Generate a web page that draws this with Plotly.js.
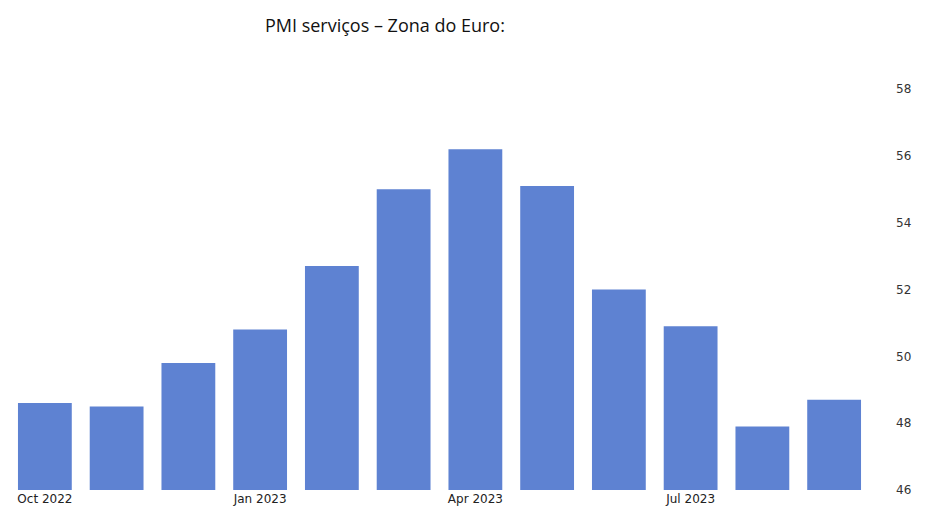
<!DOCTYPE html>
<html>
<head>
<meta charset="utf-8">
<script src="https://cdn.plot.ly/plotly-3.0.1.min.js"></script>
<style>html,body{margin:0;padding:0;background:#fff;}#chart{width:932px;height:515px;}</style>
</head>
<body>
<div id="chart"></div>
<script>
const months = ["Oct 2022","Nov 2022","Dec 2022","Jan 2023","Feb 2023","Mar 2023","Apr 2023","May 2023","Jun 2023","Jul 2023","Aug 2023","Sep 2023"];
const pmiServices = [48.6, 48.5, 49.8, 50.8, 52.7, 55.0, 56.2, 55.1, 52.0, 50.9, 47.9, 48.7];
const xTickLabels = ["Oct 2022","Jan 2023","Apr 2023","Jul 2023"];
const yTicks = [46, 48, 50, 52, 54, 56, 58];
const chartTitle = "PMI serviços – Zona do Euro:";

const trace = {
  type: "bar",
  x: months,
  y: pmiServices,
  marker: {color: "#5e82d2"},
  hoverinfo: "x+y"
};

const layout = {
  width: 932, height: 515,
  paper_bgcolor: "#ffffff", plot_bgcolor: "#ffffff",
  margin: {l: 9, r: 62, t: 89, b: 25},
  title: {text: chartTitle, x: 0.413, xanchor: "center", y: 0.95, yanchor: "middle",
          font: {family: "Open Sans, Noto Sans, sans-serif", size: 18, color: "#111"}},
  bargap: 0.25,
  showlegend: false,
  xaxis: {
    type: "category",
    tickvals: xTickLabels,
    ticktext: xTickLabels,
    showgrid: false, zeroline: false, showline: false, ticks: "",
    tickfont: {family: "DejaVu Sans, sans-serif", size: 12, color: "#222"},
    ticklabelstandoff: 0
  },
  yaxis: {
    side: "right",
    range: [46, 58],
    tickvals: yTicks,
    showgrid: false, zeroline: false, showline: false, ticks: "",
    tickfont: {family: "DejaVu Sans, sans-serif", size: 12, color: "#333"},
    ticklabelstandoff: 25
  }
};

Plotly.newPlot("chart", [trace], layout, {staticPlot: true, displayModeBar: false});
</script>
</body>
</html>
